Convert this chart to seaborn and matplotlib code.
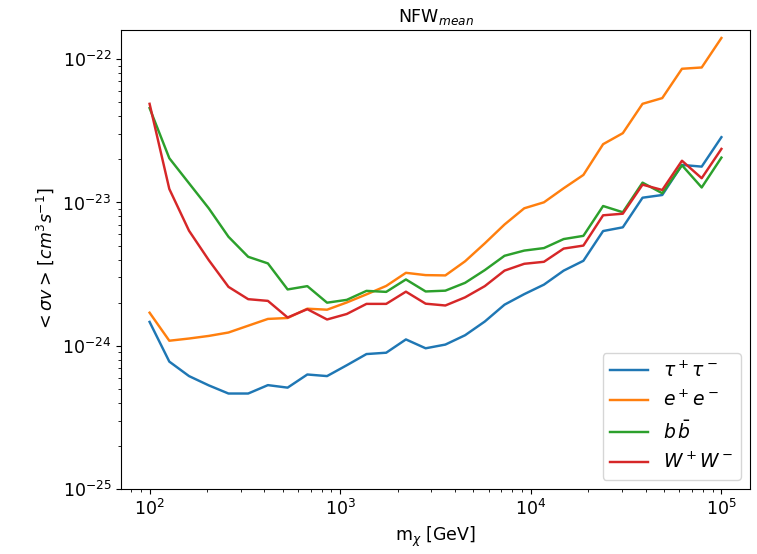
import numpy as np
import pandas as pd
import matplotlib
matplotlib.use("Agg")
import matplotlib.pyplot as plt
import seaborn as sns

# Dark-matter mass grid (GeV): 30 log-spaced points from 1e2 to 1e5
mass = np.logspace(2, 5, 30)

# <sigma v> upper limits, in units of 1e-24 cm^3 s^-1
tau_tau = [1.467, 0.775, 0.614, 0.529, 0.464, 0.464, 0.531, 0.510, 0.630, 0.614,
           0.731, 0.875, 0.894, 1.107, 0.960, 1.019, 1.184, 1.476, 1.935, 2.292,
           2.671, 3.345, 3.917, 6.32, 6.71, 10.80, 11.28, 18.29, 17.80, 28.57]
e_e = [1.701, 1.084, 1.123, 1.171, 1.237, 1.380, 1.539, 1.562, 1.814, 1.785,
       2.005, 2.284, 2.615, 3.229, 3.112, 3.097, 3.886, 5.185, 7.02, 9.11,
       10.03, 12.57, 15.57, 25.53, 30.47, 48.85, 53.55, 85.8, 87.6, 140.7]
b_b = [45.6, 20.38, 13.62, 9.11, 5.766, 4.178, 3.757, 2.472, 2.607, 1.998,
       2.091, 2.416, 2.377, 2.903, 2.393, 2.424, 2.749, 3.373, 4.246, 4.616,
       4.806, 5.556, 5.849, 9.45, 8.55, 13.76, 11.60, 18.20, 12.73, 20.58]
w_w = [48.85, 12.43, 6.35, 3.962, 2.577, 2.114, 2.057, 1.575, 1.800, 1.525,
       1.666, 1.960, 1.960, 2.385, 1.966, 1.910, 2.177, 2.607, 3.345, 3.733,
       3.855, 4.767, 5.003, 8.14, 8.35, 13.32, 12.23, 19.57, 14.77, 23.66]

channels = [r"$\tau^+\tau^-$", r"$e^+e^-$", r"$b\,\bar{b}$", r"$W^+W^-$"]
series = [tau_tau, e_e, b_b, w_w]
unit = 1e-24

rows = []
for name, vals in zip(channels, series):
    for m, v in zip(mass, vals):
        rows.append({"m": m, "sv": v * unit, "channel": name})
df = pd.DataFrame(rows)

palette = ["#1f77b4", "#ff7f0e", "#2ca02c", "#d62728"]

plt.rcParams["font.size"] = 12.5
fig = plt.figure(figsize=(7.57, 5.54), dpi=100)
ax = fig.add_axes([121 / 757, 65 / 554, 629 / 757, 459 / 554])

sns.lineplot(data=df, x="m", y="sv", hue="channel", hue_order=channels,
             palette=palette, linewidth=1.75, ax=ax)

ax.set_xscale("log")
ax.set_yscale("log")
ax.set_ylim(1e-25, 1.6e-22)
ax.set_title(r"NFW$_{mean}$", fontsize=12.5)
ax.set_xlabel(r"m$_\chi$ [GeV]", fontsize=12.5)
ax.set_ylabel(r"$<\sigma v>\,[cm^3 s^{-1}]$", fontsize=12.5)
ax.legend(loc="lower right", fontsize=13.5)

fig.savefig("out.png", dpi=100)
